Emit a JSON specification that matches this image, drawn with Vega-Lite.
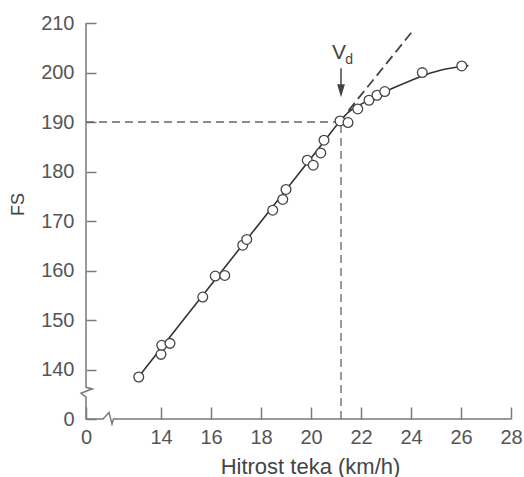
{
  "$schema": "https://vega.github.io/schema/vega-lite/v6.json",
  "width": 425,
  "height": 396,
  "autosize": "none",
  "padding": {"left": 86, "top": 23, "right": 13, "bottom": 58},
  "background": "white",
  "config": {"view": {"stroke": null}, "font": "Liberation Sans"},
  "datasets": {
    "axisline": [
      {"i": 1, "x": 11, "y": 210},
      {"i": 2, "x": 11, "y": 136.4},
      {"i": 3, "x": 11.25, "y": 136.1},
      {"i": 4, "x": 10.8, "y": 135.2},
      {"i": 5, "x": 11, "y": 134.4},
      {"i": 6, "x": 11, "y": 130},
      {"i": 7, "x": 11.68, "y": 130},
      {"i": 8, "x": 11.92, "y": 131.3},
      {"i": 9, "x": 12.04, "y": 129.0},
      {"i": 10, "x": 12.1, "y": 130},
      {"i": 11, "x": 28, "y": 130}
    ],
    "refs": [
      {"x": 11, "x2": 21.2, "y": 190, "y2": 190},
      {"x": 21.2, "x2": 21.2, "y": 130, "y2": 190}
    ],
    "extension": [
      {"x": 21.5, "x2": 24.1, "y": 192.3, "y2": 208.6}
    ],
    "curve": [
      {"x": 13.1, "y": 138.5},
      {"x": 15, "y": 150.7},
      {"x": 17, "y": 163.5},
      {"x": 19, "y": 176.3},
      {"x": 20.5, "y": 185.9},
      {"x": 21.2, "y": 190.4},
      {"x": 21.5, "y": 192.0},
      {"x": 21.9, "y": 193.3},
      {"x": 22.3, "y": 194.4},
      {"x": 22.8, "y": 195.7},
      {"x": 23.4, "y": 197.1},
      {"x": 24.0, "y": 198.4},
      {"x": 24.5, "y": 199.4},
      {"x": 25.0, "y": 200.2},
      {"x": 25.5, "y": 200.8},
      {"x": 26.0, "y": 201.2},
      {"x": 26.3, "y": 201.4}
    ],
    "points": [
      {"x": 13.11, "y": 138.48},
      {"x": 14.0, "y": 143.06},
      {"x": 14.03, "y": 144.88},
      {"x": 14.36, "y": 145.28},
      {"x": 15.67, "y": 154.63},
      {"x": 16.17, "y": 158.87},
      {"x": 16.55, "y": 159.0},
      {"x": 17.27, "y": 165.12},
      {"x": 17.43, "y": 166.27},
      {"x": 18.47, "y": 172.19},
      {"x": 18.87, "y": 174.35},
      {"x": 19.0, "y": 176.37},
      {"x": 19.85, "y": 182.28},
      {"x": 20.09, "y": 181.27},
      {"x": 20.39, "y": 183.75},
      {"x": 20.52, "y": 186.32},
      {"x": 21.16, "y": 190.21},
      {"x": 21.48, "y": 189.89},
      {"x": 21.87, "y": 192.64},
      {"x": 22.32, "y": 194.4},
      {"x": 22.64, "y": 195.4},
      {"x": 22.95, "y": 196.15},
      {"x": 24.45, "y": 199.98},
      {"x": 26.03, "y": 201.32}
    ],
    "shaft": [{"x": 21.2, "y": 200.85, "y2": 197.2}],
    "head": [{"x": 21.2, "y": 196.31}],
    "vlabel": [{"x": 21.12, "y": 202.67, "t": "V"}],
    "dlabel": [{"x": 21.53, "y": 201.8, "t": "d"}]
  },
  "layer": [
    {
      "data": {"name": "axisline"},
      "mark": {"type": "line", "color": "#7a7a7a", "strokeWidth": 1.5},
      "encoding": {
        "x": {
          "field": "x", "type": "quantitative",
          "scale": {"domain": [11, 28], "nice": false, "zero": false},
          "axis": {
            "title": "Hitrost teka (km/h)",
            "values": [11, 13, 14, 15, 16, 17, 18, 19, 20, 21, 22, 23, 24, 25, 26, 27, 28],
            "labelExpr": "datum.value == 11 ? '0' : (datum.value % 2 == 0 ? datum.label : '')",
            "domain": false, "grid": false,
            "tickSize": -12, "tickColor": "#7a7a7a", "tickWidth": 1.5,
            "labelFontSize": 20, "labelColor": "#555555", "labelPadding": 20,
            "labelFlush": false, "labelOverlap": false, "labelFont": "Liberation Sans",
            "titleFontSize": 22, "titleColor": "#444444", "titleFontWeight": "normal",
            "titleFont": "Liberation Sans",
            "titleX": 224, "titleY": 54, "titleBaseline": "alphabetic", "titleAlign": "center"
          }
        },
        "y": {
          "field": "y", "type": "quantitative",
          "scale": {"domain": [130, 210], "nice": false, "zero": false},
          "axis": {
            "title": "FS",
            "values": [130, 140, 150, 160, 170, 180, 190, 200, 210],
            "labelExpr": "datum.value == 130 ? '0' : datum.label",
            "domain": false, "grid": false,
            "tickSize": -10, "tickColor": "#7a7a7a", "tickWidth": 1.5,
            "labelFontSize": 20, "labelColor": "#555555", "labelPadding": 22,
            "labelFlush": false, "labelOverlap": false, "labelFont": "Liberation Sans",
            "titleFontSize": 18, "titleColor": "#444444", "titleFontWeight": "normal",
            "titleFont": "Liberation Sans",
            "titleAngle": 270, "titleX": -68, "titleY": 181,
            "titleAlign": "center", "titleBaseline": "middle"
          }
        },
        "order": {"field": "i", "type": "quantitative"}
      }
    },
    {
      "data": {"name": "refs"},
      "mark": {"type": "rule", "color": "#666666", "strokeWidth": 1.3, "strokeDash": [8, 5]},
      "encoding": {
        "x": {"field": "x", "type": "quantitative"},
        "x2": {"field": "x2"},
        "y": {"field": "y", "type": "quantitative"},
        "y2": {"field": "y2"}
      }
    },
    {
      "data": {"name": "extension"},
      "mark": {"type": "rule", "color": "#444444", "strokeWidth": 1.8, "strokeDash": [10, 5]},
      "encoding": {
        "x": {"field": "x", "type": "quantitative"},
        "x2": {"field": "x2"},
        "y": {"field": "y", "type": "quantitative"},
        "y2": {"field": "y2"}
      }
    },
    {
      "data": {"name": "curve"},
      "mark": {"type": "line", "color": "#333333", "strokeWidth": 1.6, "interpolate": "monotone"},
      "encoding": {
        "x": {"field": "x", "type": "quantitative"},
        "y": {"field": "y", "type": "quantitative"}
      }
    },
    {
      "data": {"name": "points"},
      "mark": {"type": "point", "shape": "circle", "filled": false, "fill": "white", "fillOpacity": 1, "stroke": "#444444", "strokeWidth": 1.3, "size": 95, "opacity": 1},
      "encoding": {
        "x": {"field": "x", "type": "quantitative"},
        "y": {"field": "y", "type": "quantitative"}
      }
    },
    {
      "data": {"name": "shaft"},
      "mark": {"type": "rule", "color": "#444444", "strokeWidth": 1.5},
      "encoding": {
        "x": {"field": "x", "type": "quantitative"},
        "y": {"field": "y", "type": "quantitative"},
        "y2": {"field": "y2"}
      }
    },
    {
      "data": {"name": "head"},
      "mark": {"type": "point", "shape": "M-0.6,-1L0.6,-1L0,1Z", "filled": true, "color": "#444444", "size": 169, "opacity": 1},
      "encoding": {
        "x": {"field": "x", "type": "quantitative"},
        "y": {"field": "y", "type": "quantitative"}
      }
    },
    {
      "data": {"name": "vlabel"},
      "mark": {"type": "text", "fontSize": 21, "color": "#444444", "align": "center", "baseline": "alphabetic", "font": "Liberation Sans"},
      "encoding": {
        "x": {"field": "x", "type": "quantitative"},
        "y": {"field": "y", "type": "quantitative"},
        "text": {"field": "t"}
      }
    },
    {
      "data": {"name": "dlabel"},
      "mark": {"type": "text", "fontSize": 14, "color": "#444444", "align": "center", "baseline": "alphabetic", "font": "Liberation Sans"},
      "encoding": {
        "x": {"field": "x", "type": "quantitative"},
        "y": {"field": "y", "type": "quantitative"},
        "text": {"field": "t"}
      }
    }
  ]
}
